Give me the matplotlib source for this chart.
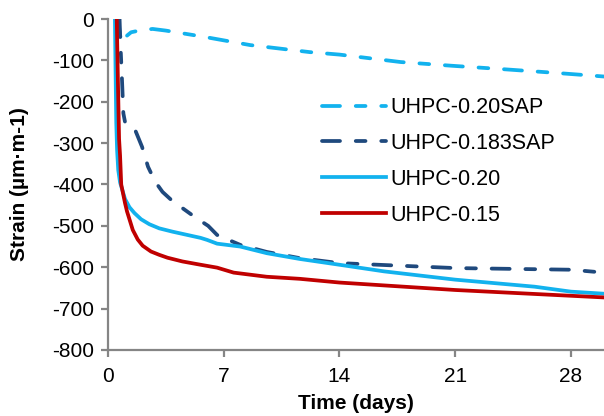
import matplotlib
matplotlib.use('Agg')
import matplotlib.pyplot as plt

plt.rcParams['font.family'] = ['Liberation Sans', 'DejaVu Sans']
plt.rcParams['axes.unicode_minus'] = False

# UHPC-0.20SAP
sap20_t = [0.6, 0.8, 1.0, 1.4, 2.0, 2.7, 3.5, 5.8, 8.6, 12.2, 14, 17.7, 20.8, 23.8, 27, 30]
sap20_s = [0, -58, -45, -32, -27, -24, -28, -43, -63, -80, -86, -104, -113, -121, -130, -139]

# UHPC-0.183SAP
sap183_t = [0.7, 0.75, 0.85, 0.93, 1.03, 1.33, 1.64, 2.06, 2.42, 2.85, 3.3, 3.9, 4.5, 5.3, 6.06,
            6.6, 8.0, 9.6, 11.6, 14, 21, 28, 30]
sap183_s = [0, -58, -150, -228, -249, -252, -268, -309, -357, -393, -418, -440, -457, -480, -500,
            -522, -546, -563, -578, -590, -602, -606, -613]

# UHPC-0.20
p20_t = [0.42, 0.45, 0.5, 0.55, 0.62, 0.73, 1.03, 1.3, 1.6, 2.0, 2.5, 3.1, 3.9, 5.6, 6.0, 6.6,
         8.0, 9.6, 11.6, 14, 16.7, 21, 25.8, 28, 30]
p20_s = [0, -100, -250, -316, -365, -395, -435, -455, -469, -484, -496, -506, -514, -529, -534,
         -543, -550, -566, -580, -594, -610, -630, -647, -659, -664]

# UHPC-0.15
p15_t = [0.53, 0.6, 0.67, 0.73, 0.8, 1.03, 1.15, 1.5, 1.8, 2.1, 2.6, 3.1, 3.6, 4.5, 5.6, 6.6, 7.6,
         9.6, 11.6, 14, 21, 28, 30]
p15_s = [0, -150, -290, -330, -400, -445, -465, -510, -533, -548, -562, -570, -577, -586, -594,
         -601, -613, -623, -628, -637, -655, -669, -673]

labels = ['UHPC-0.20SAP', 'UHPC-0.183SAP', 'UHPC-0.20', 'UHPC-0.15']
x_ticks = [0, 7, 14, 21, 28]
y_ticks = [0, -100, -200, -300, -400, -500, -600, -700, -800]

fig = plt.figure(figsize=(6.04, 4.16), dpi=100)
ax = fig.add_axes([0.1788, 0.1587, 0.8212, 0.7956])

lw = 2.7
dash = [4.8, 4.2, 2.6, 4.2]
ax.plot(sap20_t, sap20_s, color='#12B2EE', lw=lw, dashes=dash, dash_capstyle='round', label=labels[0])
ax.plot(sap183_t, sap183_s, color='#1F497D', lw=lw, dashes=dash, dash_capstyle='round', label=labels[1])
ax.plot(p20_t, p20_s, color='#12B2EE', lw=lw, solid_joinstyle='round', label=labels[2])
ax.plot(p15_t, p15_s, color='#C00000', lw=lw, solid_joinstyle='round', label=labels[3])

ax.set_xlim(0, 30)
ax.set_ylim(-800, 0)
ax.set_xticks(x_ticks)
ax.set_yticks(y_ticks)

for side in ['top', 'right']:
    ax.spines[side].set_visible(False)
for side in ['left', 'bottom']:
    ax.spines[side].set_color('#858585')
    ax.spines[side].set_linewidth(1.6)
ax.tick_params(axis='both', color='#858585', width=1.6, length=5, labelsize=15)
ax.tick_params(axis='y', pad=5)
ax.tick_params(axis='x', pad=7)

ax.set_xlabel('Time (days)', fontsize=15, fontweight='bold')
ax.set_ylabel('Strain (µm·m-1)', fontsize=15, fontweight='bold')
ax.xaxis.set_label_coords(0.5, -0.133)
ax.yaxis.set_label_coords(-0.159, 0.5)

ax.legend(loc='upper left', bbox_to_anchor=(0.431, 0.764), frameon=False, fontsize=15.5,
          borderpad=0, borderaxespad=0, handlelength=3.0, handletextpad=0.2, labelspacing=0.69)

fig.savefig('out.png', dpi=100)
